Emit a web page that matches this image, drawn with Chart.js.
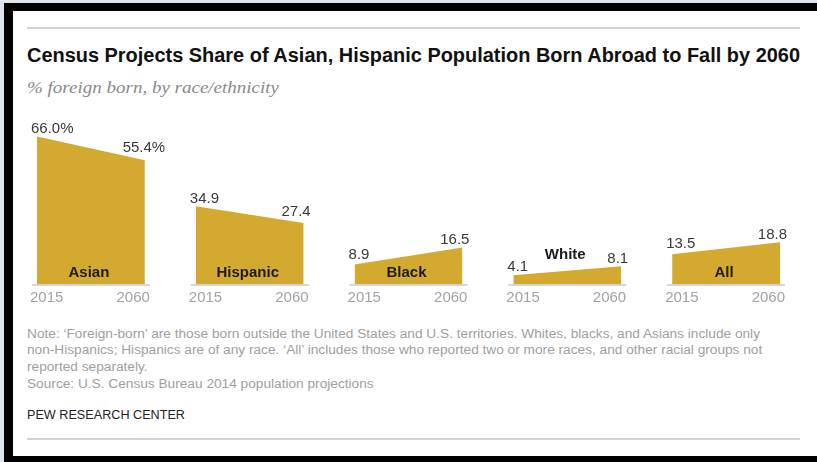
<!DOCTYPE html>
<html>
<head>
<meta charset="utf-8">
<script src="https://cdn.jsdelivr.net/npm/chart.js@4.4.1/dist/chart.umd.min.js"></script>
<style>
  body { margin: 0; width: 817px; height: 462px; position: relative; overflow: hidden; background: #dfe5ec; font-family: "Liberation Sans", Arial, sans-serif; }
  #frame { position: absolute; left: 4px; top: 3px; right: 0; bottom: 0; background: #000; }
  #card { position: absolute; left: 13px; top: 11px; width: 804px; height: 445px; background: #fff; }
  .rule { position: absolute; left: 27px; width: 773px; height: 2px; background: #d2d2d2; }
  .txt { position: absolute; left: 27px; white-space: nowrap; transform-origin: 0 0; }
  #title { top: 45px; font: bold 20px/20px "Liberation Sans Narrow", "Liberation Sans", Arial, sans-serif; color: #111; }
  #subtitle { top: 80px; font: italic 16px/16px "Liberation Serif", "DejaVu Serif", serif; color: #8a8a8a; }
  .note { font-size: 12px; line-height: 16.7px; color: #a0a0a0; }
  #pew { top: 409px; font-size: 12.5px; line-height: 12.5px; color: #222; }
  #wrap { position: absolute; left: 0; top: 0; width: 817px; height: 462px; }
</style>
</head>
<body>
<div id="frame"></div>
<div id="card"></div>
<div class="rule" style="top:27px"></div>
<div class="rule" style="top:438px"></div>
<span id="title" class="txt">Census Projects Share of Asian, Hispanic Population Born Abroad to Fall by 2060</span>
<span id="subtitle" class="txt">% foreign born, by race/ethnicity</span>
<span id="note1" class="txt note" style="top:325.5px">Note: ‘Foreign-born’ are those born outside the United States and U.S. territories. Whites, blacks, and Asians include only</span>
<span id="note2" class="txt note" style="top:342.2px">non-Hispanics; Hispanics are of any race. ‘All’ includes those who reported two or more races, and other racial groups not</span>
<span id="note3" class="txt note" style="top:358.9px">reported separately.</span>
<span id="note4" class="txt note" style="top:375.6px">Source: U.S. Census Bureau 2014 population projections</span>
<span id="pew" class="txt">PEW RESEARCH CENTER</span>
<div id="wrap"><canvas id="chart"></canvas></div>
<script>
// Foreign-born share by group, 2015 vs 2060 projection
const groups = ['Asian', 'Hispanic', 'Black', 'White', 'All'];
const years = ['2015', '2060'];
const share2015 = [66.0, 34.9, 8.9, 4.1, 13.5];
const share2060 = [55.4, 27.4, 16.5, 8.1, 18.8];

const GOLD = '#d4a930';
const STEP = 1.472; // distance between panel starts, in panel widths

// squeeze/stretch text to the width it has in the original layout
function fitWidth(id, w) {
    const el = document.getElementById(id);
    const s = w / el.getBoundingClientRect().width;
    el.style.transform = `scaleX(${s})`;
    return s;
}
fitWidth('title', 773);
fitWidth('subtitle', 252);
const noteScale = fitWidth('note1', 733);
['note2', 'note3', 'note4'].forEach(id => {
    document.getElementById(id).style.transform = `scaleX(${noteScale})`;
});
fitWidth('pew', 158);

const datasets = groups.map((g, i) => ({
    label: g,
    data: [
        { x: i * STEP, y: share2015[i] },
        { x: i * STEP + 1, y: share2060[i] }
    ],
    fill: 'origin',
    backgroundColor: GOLD,
    borderColor: GOLD,
    borderWidth: 0,
    pointRadius: 0,
    tension: 0
}));

// baselines, year ticks, value labels and group names
const panelLabels = {
    id: 'panelLabels',
    afterDatasetsDraw(chart) {
        const ctx = chart.ctx;
        const xs = chart.scales.x;
        const ys = chart.scales.y;
        const y0 = ys.getPixelForValue(0);
        ctx.save();
        groups.forEach((g, i) => {
            const x0 = xs.getPixelForValue(i * STEP);
            const x1 = xs.getPixelForValue(i * STEP + 1);
            const ya = ys.getPixelForValue(share2015[i]);
            const yb = ys.getPixelForValue(share2060[i]);
            const lineY = x => {
                const c = Math.min(Math.max(x, x0), x1);
                return ya + (yb - ya) * (c - x0) / (x1 - x0);
            };
            const topOver = (a, b) => Math.min(lineY(a), lineY(b));

            // axis segment
            ctx.strokeStyle = '#c9c9c9';
            ctx.lineWidth = 1.5;
            ctx.beginPath();
            ctx.moveTo(x0 - 5, y0 + 0.5);
            ctx.lineTo(x1 + 5, y0 + 0.5);
            ctx.stroke();

            // year ticks
            ctx.font = '15px "Liberation Sans", Arial, sans-serif';
            ctx.fillStyle = '#a3a3a3';
            ctx.textBaseline = 'alphabetic';
            ctx.textAlign = 'left';
            ctx.fillText(years[0], x0 - 7, y0 + 17.5);
            ctx.textAlign = 'right';
            ctx.fillText(years[1], x1 + 5, y0 + 17.5);

            // values
            ctx.fillStyle = '#3a3a3a';
            ctx.textAlign = 'left';
            const suffix = i === 0 ? '%' : '';
            const t1 = share2015[i].toFixed(1) + suffix;
            const w1 = ctx.measureText(t1).width;
            const s1 = x0 - 6;
            ctx.fillText(t1, s1, topOver(s1, s1 + w1) - 3.5);
            const n2 = share2060[i].toFixed(1);
            const t2 = n2 + suffix;
            const s2 = x1 + 7 - ctx.measureText(n2).width;
            const w2 = ctx.measureText(t2).width;
            ctx.fillText(t2, s2, topOver(s2, s2 + w2) - 3.5);

            // group name, inside the area when it fits
            ctx.font = 'bold 15px "Liberation Sans", Arial, sans-serif';
            ctx.fillStyle = '#1c1c1c';
            ctx.textAlign = 'center';
            const cx = (x0 + x1) / 2 - 2;
            const wn = ctx.measureText(g).width;
            const top = topOver(cx - wn / 2, cx + wn / 2);
            const by = (y0 - top) > 20 ? y0 - 8 : top - 10;
            ctx.fillText(g, cx, by);
        });
        ctx.restore();
    }
};

new Chart(document.getElementById('chart'), {
    type: 'line',
    data: { datasets: datasets },
    options: {
        responsive: true,
        maintainAspectRatio: false,
        animation: false,
        layout: { padding: { left: 37, right: 37, top: 127.5, bottom: 177.5 } },
        scales: {
            x: { type: 'linear', min: 0, max: 4 * STEP + 1, display: false },
            y: { min: 0, max: 70, display: false }
        },
        plugins: {
            legend: { display: false },
            tooltip: { enabled: false }
        }
    },
    plugins: [panelLabels]
});
</script>
</body>
</html>
